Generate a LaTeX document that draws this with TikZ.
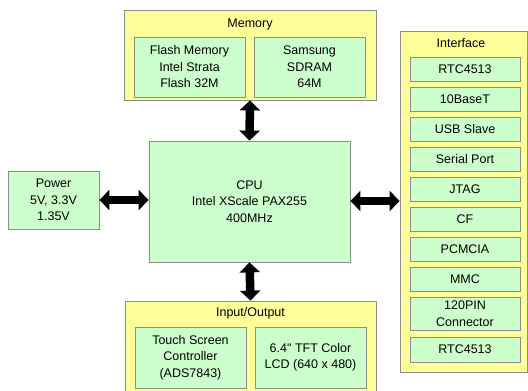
\documentclass[tikz,border=0pt]{standalone}
\usepackage{fontspec}
\setmainfont{Liberation Sans}
\usetikzlibrary{arrows.meta}
\definecolor{ylw}{HTML}{FFFF99}
\definecolor{grn}{HTML}{CCFFCC}
\definecolor{edge}{HTML}{8C8C8C}
\begin{document}
\begin{tikzpicture}[x=1pt,y=-1pt,
  font=\fontsize{12.5}{16.5}\selectfont,
  outerbox/.style={draw=edge,fill=ylw,line width=0.8pt,inner sep=0pt},
  innerbox/.style={draw=edge,fill=grn,line width=0.8pt,inner sep=0pt,align=center},
  ttl/.style={inner sep=0pt,anchor=center},
  bigarrow/.style={line width=8.5pt,{Triangle[length=10pt,width=20pt]}-{Triangle[length=10pt,width=20pt]}}
]
\useasboundingbox (0,0) rectangle (528,391);
% Memory
\node[outerbox,minimum width=252pt,minimum height=90pt] (mem) at (250,55) {};
\node[ttl] (memt) at (250,24) {Memory};
\node[innerbox,minimum width=111pt,minimum height=60pt] (flash) at (189.5,67) {Flash Memory\\Intel Strata\\Flash 32M};
\node[innerbox,minimum width=111pt,minimum height=60pt] (sdram) at (309.5,67) {Samsung\\SDRAM\\64M};
% Power
\node[innerbox,minimum width=91pt,minimum height=58pt] (pow) at (53.5,200) {Power\\5V, 3.3V\\1.35V};
% CPU
\node[innerbox,minimum width=201pt,minimum height=121pt] (cpu) at (249.5,201.5) {CPU\\Intel XScale PAX255\\400MHz};
% IO
\node[outerbox,minimum width=251pt,minimum height=100pt] (io) at (250.5,351) {};
\node[ttl] (iot) at (250.5,313) {Input/Output};
\node[innerbox,minimum width=111pt,minimum height=61pt] (touch) at (190.5,357.5) {Touch Screen\\Controller\\(ADS7843)};
\node[innerbox,minimum width=111pt,minimum height=61pt] (lcd) at (310.5,357.5) {6.4\textquotedbl{} TFT Color\\LCD (640 x 480)};
% Interface
\node[outerbox,minimum width=127pt,minimum height=341pt] (intf) at (463.5,201.5) {};
\node[ttl] (intft) at (461,43) {Interface};
\node[innerbox,minimum width=110pt,minimum height=24pt] (i1) at (465,69) {RTC4513};
\node[innerbox,minimum width=110pt,minimum height=24pt] (i2) at (465,99) {10BaseT};
\node[innerbox,minimum width=110pt,minimum height=24pt] (i3) at (465,129) {USB Slave};
\node[innerbox,minimum width=110pt,minimum height=24pt] (i4) at (465,159) {Serial Port};
\node[innerbox,minimum width=110pt,minimum height=24pt] (i5) at (465,189) {JTAG};
\node[innerbox,minimum width=110pt,minimum height=24pt] (i6) at (465,219.5) {CF};
\node[innerbox,minimum width=110pt,minimum height=24pt] (i7) at (465,249) {PCMCIA};
\node[innerbox,minimum width=110pt,minimum height=24pt] (i8) at (465,279) {MMC};
\node[innerbox,minimum width=110pt,minimum height=33pt] (i9) at (465,313.5) {120PIN\\Connector};
\node[innerbox,minimum width=110pt,minimum height=25pt] (i10) at (465,349.5) {RTC4513};
% Arrows
\draw[bigarrow] (mem.south) -- (cpu.north);
\draw[bigarrow] (cpu.south) -- (io.north);
\draw[bigarrow] (pow.east) -- (pow.east -| cpu.west);
\draw[bigarrow] (cpu.east |- 0,201) -- (intf.west |- 0,201);
\end{tikzpicture}
\end{document}
